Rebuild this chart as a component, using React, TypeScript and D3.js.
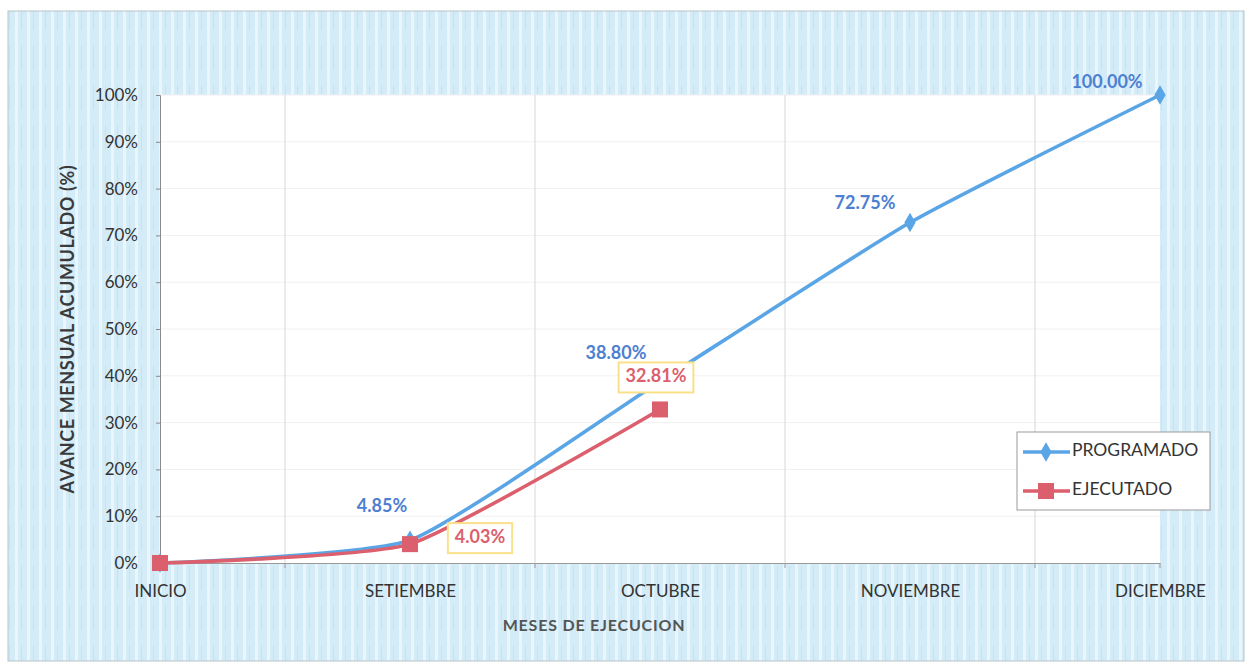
import { useEffect, useRef } from 'react';
import * as d3 from 'd3';

const meses = ['INICIO', 'SETIEMBRE', 'OCTUBRE', 'NOVIEMBRE', 'DICIEMBRE'];
const programado = [0, 4.85, 38.8, 72.75, 100];
const ejecutado = [0, 4.03, 32.81];
const yTicks = [0, 10, 20, 30, 40, 50, 60, 70, 80, 90, 100];

// label offsets (dx, dy) from the point, as placed in the original sheet
const progLabelOffsets = [null, [-28, -33], [-44, -27], [-45, -18], [-53, -12]];
const ejecLabelOffsets = [null, [70, -6], [-4, -32]];

const W = 1249;
const H = 667;
const BLUE = '#5aa5e6';
const RED = '#dc5f6d';
const FONT = 'Lato, "Open Sans", sans-serif';

export default function App() {
  const svgRef = useRef<SVGSVGElement>(null);

  useEffect(() => {
    document.body.style.margin = '0';
    const svg = d3.select(svgRef.current);
    svg.selectAll('*').remove();

    const left = 160, right = 1160, top = 95, bottom = 563;
    const x = d3.scalePoint<string>().domain(meses).range([left, right]);
    const y = d3.scaleLinear().domain([0, 100]).range([bottom, top]);

    // striped light blue background
    const defs = svg.append('defs');
    const pat = defs.append('pattern')
      .attr('id', 'stripes').attr('patternUnits', 'userSpaceOnUse')
      .attr('width', 12).attr('height', 40);
    pat.append('rect').attr('width', 12).attr('height', 40).attr('fill', '#d3ecf7');
    pat.append('rect').attr('x', 3).attr('width', 3).attr('height', 40).attr('fill', '#eaf6fb');
    pat.append('rect').attr('x', 9).attr('y', 6).attr('width', 1).attr('height', 24).attr('fill', '#c2e3f2');

    svg.append('rect').attr('width', W).attr('height', H).attr('fill', '#ffffff');
    svg.append('rect')
      .attr('x', 8).attr('y', 11).attr('width', 1236).attr('height', 650)
      .attr('fill', 'url(#stripes)').attr('stroke', '#b9c3c8').attr('stroke-width', 1);

    // plot area
    svg.append('rect')
      .attr('x', left).attr('y', top).attr('width', right - left).attr('height', bottom - top)
      .attr('fill', '#ffffff');

    // gridlines
    svg.append('g').selectAll('line').data(yTicks.slice(1))
      .join('line')
      .attr('x1', left).attr('x2', right)
      .attr('y1', d => y(d)).attr('y2', d => y(d))
      .attr('stroke', '#f0f0f0').attr('stroke-width', 1);
    const mids = meses.slice(1).map((m, i) => ((x(meses[i]) as number) + (x(m) as number)) / 2);
    svg.append('g').selectAll('line').data(mids)
      .join('line')
      .attr('x1', d => d).attr('x2', d => d)
      .attr('y1', top).attr('y2', bottom)
      .attr('stroke', '#dedede').attr('stroke-width', 1.2);

    // axes
    const yAxis = svg.append('g')
      .attr('transform', `translate(${left},0)`)
      .call(d3.axisLeft(y).tickValues(yTicks).tickSize(4).tickPadding(18).tickFormat(d => `${d}%`));
    yAxis.select('.domain').attr('stroke', '#8a8a8a');
    yAxis.selectAll('line').attr('stroke', '#8a8a8a');
    yAxis.selectAll('text').attr('font-family', FONT).attr('font-size', 17).attr('fill', '#333');

    const xAxis = svg.append('g')
      .attr('transform', `translate(0,${bottom})`)
      .call(d3.axisBottom(x).tickSize(0).tickPadding(22));
    xAxis.select('.domain').attr('stroke', '#9a9a9a');
    xAxis.selectAll('text').attr('font-family', FONT).attr('font-size', 17).attr('fill', '#333');
    svg.append('g').selectAll('line').data(mids.concat([left, right]))
      .join('line')
      .attr('x1', d => d).attr('x2', d => d)
      .attr('y1', bottom).attr('y2', bottom + 5)
      .attr('stroke', '#9a9a9a');

    // axis titles
    svg.append('text')
      .attr('transform', `translate(69,${(top + bottom) / 2}) rotate(-90)`)
      .attr('text-anchor', 'middle').attr('dominant-baseline', 'middle')
      .attr('font-family', FONT).attr('font-size', 18).attr('font-weight', 'bold').attr('fill', '#3a3a3a')
      .attr('letter-spacing', 0.6)
      .text('AVANCE MENSUAL ACUMULADO (%)');
    svg.append('text')
      .attr('x', 594).attr('y', 631).attr('text-anchor', 'middle')
      .attr('font-family', FONT).attr('font-size', 16).attr('font-weight', 'bold').attr('fill', '#555')
      .attr('letter-spacing', 0.8)
      .text('MESES DE EJECUCION');

    const line = d3.line<number>()
      .x((_, i) => x(meses[i]) as number)
      .y(d => y(d))
      .curve(d3.curveCardinal.tension(0.5));

    svg.append('path').datum(programado).attr('d', line)
      .attr('fill', 'none').attr('stroke', BLUE).attr('stroke-width', 3.6);
    svg.append('path').datum(ejecutado).attr('d', line)
      .attr('fill', 'none').attr('stroke', RED).attr('stroke-width', 3.6);

    const diamond = d3.symbol().type(d3.symbolDiamond).size(110);
    svg.append('g').selectAll('path').data(programado)
      .join('path')
      .attr('d', diamond)
      .attr('transform', (d, i) => `translate(${x(meses[i])},${y(d)})`)
      .attr('fill', BLUE);
    svg.append('g').selectAll('rect').data(ejecutado)
      .join('rect')
      .attr('x', (_, i) => (x(meses[i]) as number) - 8)
      .attr('y', d => y(d) - 8)
      .attr('width', 16).attr('height', 16)
      .attr('fill', RED);

    // data labels
    programado.forEach((v, i) => {
      const o = progLabelOffsets[i];
      if (!o) return;
      svg.append('text')
        .attr('x', (x(meses[i]) as number) + o[0]).attr('y', y(v) + o[1])
        .attr('text-anchor', 'middle').attr('dominant-baseline', 'middle')
        .attr('font-family', FONT).attr('font-size', 18).attr('font-weight', 'bold')
        .attr('fill', '#4d80d2')
        .text(`${v.toFixed(2)}%`);
    });
    ejecutado.forEach((v, i) => {
      const o = ejecLabelOffsets[i];
      if (!o) return;
      const cx = (x(meses[i]) as number) + o[0];
      const cy = y(v) + o[1];
      const box = svg.append('rect')
        .attr('fill', '#ffffff').attr('stroke', '#fbe08a').attr('stroke-width', 2);
      const t = svg.append('text')
        .attr('x', cx).attr('y', cy)
        .attr('text-anchor', 'middle').attr('dominant-baseline', 'middle')
        .attr('font-family', FONT).attr('font-size', 18).attr('font-weight', 'bold')
        .attr('fill', RED)
        .text(`${v.toFixed(2)}%`);
      const tw = (t.node() as SVGTextElement).getComputedTextLength();
      box.attr('x', cx - tw / 2 - 7).attr('y', cy - 15).attr('width', tw + 14).attr('height', 30);
    });

    // legend
    const lg = svg.append('g').attr('transform', 'translate(1017,432)');
    lg.append('rect').attr('width', 193).attr('height', 78)
      .attr('fill', '#ffffff').attr('stroke', '#9a9a9a');
    const items = [
      { name: 'PROGRAMADO', color: BLUE, shape: 'diamond' },
      { name: 'EJECUTADO', color: RED, shape: 'square' },
    ];
    items.forEach((it, i) => {
      const cy = 20 + i * 39;
      lg.append('line').attr('x1', 6).attr('x2', 53).attr('y1', cy).attr('y2', cy)
        .attr('stroke', it.color).attr('stroke-width', 3.6);
      if (it.shape === 'diamond') {
        lg.append('path').attr('d', diamond).attr('transform', `translate(29,${cy})`).attr('fill', it.color);
      } else {
        lg.append('rect').attr('x', 21).attr('y', cy - 8).attr('width', 16).attr('height', 16).attr('fill', it.color);
      }
      lg.append('text').attr('x', 55).attr('y', cy).attr('dominant-baseline', 'middle')
        .attr('font-family', FONT).attr('font-size', 17.5).attr('fill', '#333')
        .text(it.name);
    });
  }, []);

  return <svg ref={svgRef} width={W} height={H} style={{ display: 'block' }} />;
}
